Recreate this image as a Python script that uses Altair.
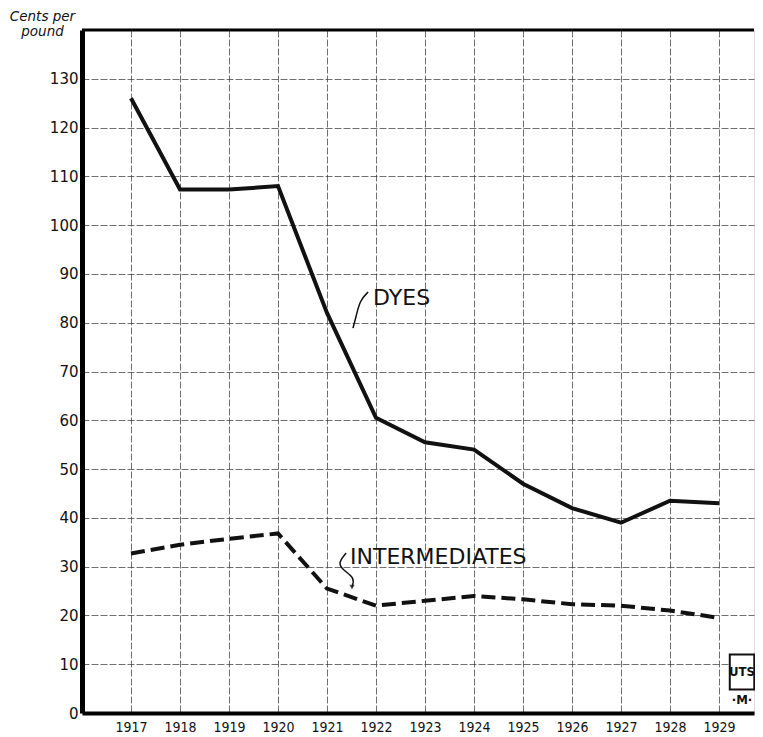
import altair as alt
import pandas as pd

years = list(range(1917, 1930))
dyes = [126, 107.3, 107.3, 108, 82, 60.5, 55.5, 54, 47, 42, 39, 43.5, 43]
intermediates = [32.7, 34.5, 35.7, 36.8, 25.5, 22, 23, 24, 23.3, 22.3, 22, 21, 19.5]
y_ticks = list(range(0, 140, 10))

dyes_leader_x = [1921.84, 1921.67, 1921.59, 1921.53]
dyes_leader_y = [86.3, 84.6, 81.1, 78.9]
int_leader_x = [1921.39, 1921.22, 1921.33, 1921.57, 1921.51]
int_leader_y = [32.8, 30.7, 29.3, 27.7, 25.8]

df_d = pd.DataFrame({"year": years, "v": dyes})
df_i = pd.DataFrame({"year": years, "v": intermediates})
df_ld = pd.DataFrame({"x": dyes_leader_x, "y": dyes_leader_y, "o": range(len(dyes_leader_x))})
df_li = pd.DataFrame({"x": int_leader_x, "y": int_leader_y, "o": range(len(int_leader_x))})

FONT = "DejaVu Sans"
XMAX = 1916 + 672 / 49

xs = alt.Scale(domain=[1916, XMAX], nice=False, zero=False)
ys = alt.Scale(domain=[0, 140], nice=False)

x_axis = alt.Axis(values=years, format="d", grid=True, gridColor="#333", gridOpacity=0.7,
                  gridDash=[7, 2], gridWidth=1, domainColor="black", domainWidth=4,
                  ticks=False, labelPadding=7, labelFontSize=14, labelFont="DejaVu Sans Condensed",
                  labelColor="#111", title=None)
y_axis = alt.Axis(values=y_ticks, grid=True, gridColor="#333", gridOpacity=0.7,
                  gridDash=[7, 2], gridWidth=1, domainColor="black", domainWidth=5,
                  ticks=False, labelPadding=4, labelFontSize=15, labelFont=FONT,
                  labelColor="#111",
                  title=["Cents per", "pound"], titleAngle=0, titleX=-40, titleY=-21,
                  titleAlign="center", titleBaseline="top", titleFontStyle="italic",
                  titleFontWeight="normal", titleFontSize=13.5, titleFont=FONT, titleColor="#111",
                  titleLineHeight=15)

dyes_line = alt.Chart(df_d).mark_line(color="#111", strokeWidth=4).encode(
    x=alt.X("year:Q", scale=xs, axis=x_axis),
    y=alt.Y("v:Q", scale=ys, axis=y_axis),
)
int_line = alt.Chart(df_i).mark_line(color="#111", strokeWidth=4, strokeDash=[14, 6]).encode(
    x=alt.X("year:Q", scale=xs),
    y=alt.Y("v:Q", scale=ys),
)

top = alt.Chart(pd.DataFrame({"y": [140]})).mark_rule(color="black", strokeWidth=3).encode(
    y=alt.Y("y:Q", scale=ys)
)

labels = alt.Chart(pd.DataFrame({
    "x": [1921.94, 1921.47], "y": [85, 32], "t": ["DYES", "INTERMEDIATES"]
})).mark_text(align="left", baseline="middle", fontSize=22, font=FONT, color="#111").encode(
    x=alt.X("x:Q", scale=xs), y=alt.Y("y:Q", scale=ys), text="t:N"
)

lead_d = alt.Chart(df_ld).mark_line(color="#111", strokeWidth=1.5, interpolate="basis").encode(
    x=alt.X("x:Q", scale=xs), y=alt.Y("y:Q", scale=ys), order="o:Q"
)
lead_i = alt.Chart(df_li).mark_line(color="#111", strokeWidth=1.5, interpolate="basis").encode(
    x=alt.X("x:Q", scale=xs), y=alt.Y("y:Q", scale=ys), order="o:Q"
)
arrow = alt.Chart(pd.DataFrame({"x": [int_leader_x[-1]], "y": [int_leader_y[-1]]})).mark_point(
    shape="triangle-down", filled=True, size=30, color="#111").encode(
    x=alt.X("x:Q", scale=xs), y=alt.Y("y:Q", scale=ys)
)

logo_box = alt.Chart(pd.DataFrame({"x": [1929.22], "x2": [1929.72], "y": [4.8], "y2": [12]})).mark_rect(
    fill="white", stroke="#111", strokeWidth=2).encode(
    x=alt.X("x:Q", scale=xs), x2="x2:Q", y=alt.Y("y:Q", scale=ys), y2="y2:Q"
)
logo_text = alt.Chart(pd.DataFrame({"x": [1929.47, 1929.47], "y": [8.4, 2.6], "t": ["UTS", "·M·"]})).mark_text(
    fontSize=13, font="DejaVu Sans Condensed", fontWeight="bold", color="#111", baseline="middle").encode(
    x=alt.X("x:Q", scale=xs), y=alt.Y("y:Q", scale=ys), text="t:N"
)

chart = alt.layer(dyes_line, int_line, top, labels, lead_d, lead_i, arrow, logo_box, logo_text).properties(
    width=672, height=683,
    autosize=alt.AutoSizeParams(type="none"),
    padding={"left": 74, "top": 22, "right": 1, "bottom": 20},
).configure_view(stroke=None).configure(background="white")

chart.save("out.html", embed_options={"renderer": "svg", "actions": False})
